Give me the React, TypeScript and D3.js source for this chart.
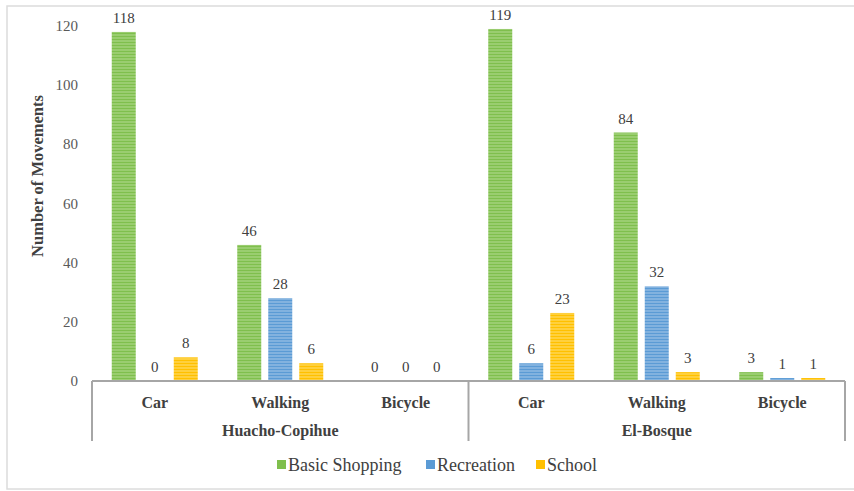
import React from "react";
import * as d3 from "d3";

const groups = ["Huacho-Copihue", "El-Bosque"];
const modes = ["Car", "Walking", "Bicycle"];
const seriesNames = ["Basic Shopping", "Recreation", "School"];
const basicShopping = [118, 46, 0, 119, 84, 3];
const recreation = [0, 28, 0, 6, 32, 1];
const school = [8, 6, 0, 23, 3, 1];
const yTicks = [0, 20, 40, 60, 80, 100, 120];

const baseColors = ["#7fbf4d", "#5b9bd5", "#ffc000"];
const stripeColors = ["#b5dc93", "#a8c9ea", "#ffe07a"];

export default function App() {
  const W = 854, H = 491;
  const left = 92, right = 845, top = 26, bottom = 381;
  const cats = groups.flatMap((g) => modes.map((m) => g + "|" + m));
  const seriesVals = [basicShopping, recreation, school];
  const x = d3.scaleBand().domain(cats).range([left, right]).padding(0);
  const xs = d3.scaleBand().domain(seriesNames).range([0, x.bandwidth()]).paddingInner(0.226).paddingOuter(0.637);
  const y = d3.scaleLinear().domain([0, 120]).range([bottom, top]);
  const groupW = (right - left) / groups.length;
  const legendX = [277, 426, 536];
  return (
    <svg width={W} height={H} style={{ position: "absolute", left: 0, top: 0, fontFamily: "\"Liberation Serif\", \"DejaVu Serif\", serif" }}>
      <defs>
        {baseColors.map((c, i) => (
          <pattern key={i} id={"p" + i} patternUnits="userSpaceOnUse" width={6} height={3}>
            <rect width={6} height={3} fill={c} />
            <rect y={1.5} width={6} height={1} fill={stripeColors[i]} />
          </pattern>
        ))}
      </defs>
      <rect x={0} y={0} width={W} height={H} fill="#fff" />
      <rect x={7} y={6} width={W} height={483} fill="none" stroke="#dcdcdc" strokeWidth={1.5} />
      {yTicks.map((t) => (
        <text key={t} x={78} y={y(t) + 5} textAnchor="end" fontSize={15} fill="#595959">{t}</text>
      ))}
      <text transform={`translate(43,${176}) rotate(-90)`} textAnchor="middle" fontSize={16.5} fontWeight="bold" fill="#404040">Number of Movements</text>
      {cats.map((c, ci) =>
        seriesNames.map((s, si) => {
          const v = seriesVals[si][ci];
          const bx = (x(c) as number) + (xs(s) as number);
          const bw = xs.bandwidth();
          return (
            <g key={c + s}>
              {v > 0 && <rect x={bx} y={y(v)} width={bw} height={bottom - y(v)} fill={`url(#p${si})`} />}
              <text x={bx + bw / 2} y={y(v) - 9} textAnchor="middle" fontSize={15} fill="#404040">{v}</text>
            </g>
          );
        })
      )}
      <line x1={left} x2={right} y1={bottom} y2={bottom} stroke="#a6a6a6" strokeWidth={2} />
      {[0, 1, 2].map((i) => (
        <line key={i} x1={left + i * groupW} x2={left + i * groupW} y1={bottom} y2={441} stroke="#a6a6a6" strokeWidth={2} />
      ))}
      {cats.map((c) => (
        <text key={c} x={(x(c) as number) + x.bandwidth() / 2} y={408} textAnchor="middle" fontSize={16} fontWeight="bold" fill="#404040">{c.split("|")[1]}</text>
      ))}
      {groups.map((g, i) => (
        <text key={g} x={left + groupW * (i + 0.5)} y={436} textAnchor="middle" fontSize={16} fontWeight="bold" fill="#404040">{g}</text>
      ))}
      {seriesNames.map((s, i) => (
        <g key={s}>
          <rect x={legendX[i]} y={460} width={9} height={9} fill={baseColors[i]} />
          <text x={legendX[i] + 11} y={471} fontSize={18} fill="#404040">{s}</text>
        </g>
      ))}
    </svg>
  );
}
